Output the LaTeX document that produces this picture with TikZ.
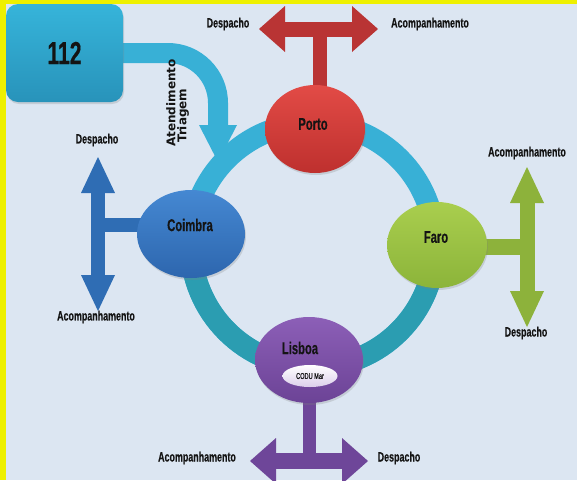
\documentclass[tikz,border=0pt]{standalone}
\usepackage{fontspec}
\usetikzlibrary{arrows.meta,shapes.geometric,shadows}
\newfontfamily\narrowfont{Liberation Sans}[FakeStretch=0.66,FakeBold=0.4]
\newfontfamily\widefont{DejaVu Sans}

\definecolor{frameyellow}{HTML}{EEF000}
\definecolor{paper}{HTML}{DCE6F2}
\definecolor{ringcyan}{HTML}{38B0D6}
\definecolor{ringteal}{HTML}{2B9DB1}
\definecolor{boxtop}{HTML}{36B4DA}
\definecolor{boxbot}{HTML}{2893BA}
\definecolor{portotop}{HTML}{E24B46}
\definecolor{portobot}{HTML}{BE302E}
\definecolor{portobar}{HTML}{B93434}
\definecolor{coimbratop}{HTML}{4588D2}
\definecolor{coimbrabot}{HTML}{2D66AE}
\definecolor{coimbrabar}{HTML}{2F6DB4}
\definecolor{farotop}{HTML}{A9CE4E}
\definecolor{farobot}{HTML}{8CB43A}
\definecolor{farobar}{HTML}{8DB23B}
\definecolor{lisboatop}{HTML}{8C5FB7}
\definecolor{lisboabot}{HTML}{6C4396}
\definecolor{lisboabar}{HTML}{6E4699}
\definecolor{codubot}{HTML}{DCCFEA}
\definecolor{ink}{HTML}{141414}

\pgfdeclarelayer{back}
\pgfdeclarelayer{mid}
\pgfsetlayers{back,mid,main}

\tikzset{
  WideHead/.tip={Triangle[width=46pt,length=26pt,line width=0pt]},
  TallHead/.tip={Triangle[width=34pt,length=36pt,line width=0pt]},
  FeedHead/.tip={Triangle[width=38pt,length=37pt,line width=0pt]},
  soft shadow/.style={drop shadow={opacity=0.25,shadow xshift=1pt,shadow yshift=-2pt}},
  city/.style={ellipse, inner sep=0pt, soft shadow},
  cityname/.style={inner sep=0pt, text=ink, font=\narrowfont\bfseries\fontsize{17}{17}\selectfont},
  tagtext/.style={inner sep=0pt, text=ink, font=\narrowfont\bfseries\fontsize{13.5}{14}\selectfont},
  vert/.style={rotate=90, anchor=west, inner sep=0pt, text=ink, font=\widefont\bfseries\fontsize{12}{12}\selectfont},
  box/.style={rounded corners=12pt, minimum width=117pt, minimum height=98pt, top color=boxtop, bottom color=boxbot, soft shadow, text=ink, font=\narrowfont\bfseries\fontsize{32}{32}\selectfont},
  codu/.style={ellipse, inner sep=0pt, minimum width=55pt, minimum height=22pt, top color=white, bottom color=codubot, text=ink, font=\narrowfont\fontsize{8.5}{9}\selectfont}
}

\begin{document}
\begin{tikzpicture}[x=1pt,y=-1pt]
        \clip (0,0) rectangle (577,480);
        \begin{pgfonlayer}{back}
                \fill [frameyellow] (0,0) rectangle (577,480);
                \fill [paper] (6,4) rectangle (577,480);
        \end{pgfonlayer}

        \coordinate (ringc) at (313,245);
        \coordinate (entry) at (218,162);
        \coordinate (porto-top) at (320,29);
        \coordinate (porto-l) at (259,29);
        \coordinate (porto-r) at (378,29);
        \coordinate (coimbra-mid) at (98,225);
        \coordinate (coimbra-t) at (98,157);
        \coordinate (coimbra-b) at (98,311);
        \coordinate (faro-mid) at (527,247);
        \coordinate (faro-t) at (527,167);
        \coordinate (faro-b) at (527,327);
        \coordinate (lisboa-bot) at (309,461);
        \coordinate (lisboa-l) at (250,461);
        \coordinate (lisboa-r) at (368,461);

        \node[box] (n112) at (64.5,53) {112};

        \node[city, top color=portotop, bottom color=portobot, minimum width=100pt, minimum height=88pt] (porto) at (315,129) {};
        \node[city, top color=coimbratop, bottom color=coimbrabot, minimum width=108pt, minimum height=88pt] (coimbra) at (191,234) {};
        \node[city, top color=farotop, bottom color=farobot, minimum width=100pt, minimum height=86pt] (faro) at (437,245) {};
        \node[city, top color=lisboatop, bottom color=lisboabot, minimum width=108pt, minimum height=86pt] (lisboa) at (309,360) {};

        \node[cityname] (porto-name) at (313,124) {Porto};
        \node[cityname] (coimbra-name) at (190,225) {Coimbra};
        \node[cityname] (faro-name) at (436,237) {Faro};
        \node[cityname] (lisboa-name) at (300,348) {Lisboa};
        \node[codu] (codu) at (310,376) {CODU Mar};

        \begin{pgfonlayer}{mid}
                \draw [line width=22pt, ringcyan] (ringc) circle[radius=122pt];
                \begin{scope}
                        \clip (0,245) rectangle (577,480);
                        \draw [line width=22pt, ringteal] (ringc) circle[radius=122pt];
                \end{scope}
                \draw [line width=20pt, ringcyan, rounded corners=50pt, -{FeedHead}] (n112.east) -| (entry);
                \draw [line width=14pt, portobar] (porto-top |- porto.center) -- (porto-top);
                \draw [line width=14pt, coimbrabar] (coimbra-mid -| coimbra.center) -- (coimbra-mid);
                \draw [line width=16pt, farobar] (faro-mid -| faro.center) -- (faro-mid);
                \draw [line width=13pt, lisboabar] (lisboa-bot |- lisboa.center) -- (lisboa-bot);
        \end{pgfonlayer}

        \draw [line width=15pt, portobar, {WideHead}-{WideHead}] (porto-l) -- (porto-r);
        \draw [line width=14pt, coimbrabar, {TallHead}-{TallHead}] (coimbra-t) -- (coimbra-b);
        \draw [line width=15pt, farobar, {TallHead}-{TallHead}] (faro-t) -- (faro-b);
        \draw [line width=16pt, lisboabar, {WideHead}-{WideHead}] (lisboa-l) -- (lisboa-r);

        \node[vert] (atend) at (171,147) {Atendimento};
        \node[vert] (triagem) at (183,143) {Triagem};

        \node[tagtext] (porto-d) at (228,24) {Despacho};
        \node[tagtext] (porto-a) at (430,24) {Acompanhamento};
        \node[tagtext] (coimbra-d) at (97,140) {Despacho};
        \node[tagtext] (coimbra-a) at (96,317) {Acompanhamento};
        \node[tagtext] (faro-a) at (527,153) {Acompanhamento};
        \node[tagtext] (faro-d) at (526,333) {Despacho};
        \node[tagtext] (lisboa-a) at (197,458) {Acompanhamento};
        \node[tagtext] (lisboa-d) at (399,458) {Despacho};
\end{tikzpicture}
\end{document}
